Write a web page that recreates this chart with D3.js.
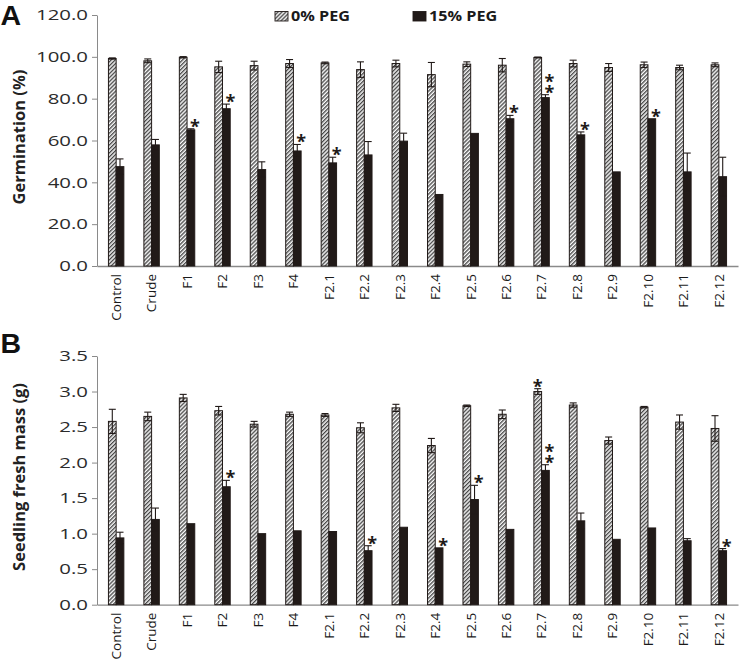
<!DOCTYPE html>
<html>
<head>
<meta charset="utf-8">
<script src="https://cdn.jsdelivr.net/npm/d3@7"></script>
<style>
  body { margin: 0; background: #fff; }
  text { font-family: "Open Sans", sans-serif; }
</style>
</head>
<body>
<script>
// categories / series
var categories = ['Control', 'Crude', 'F1', 'F2', 'F3', 'F4', 'F2.1', 'F2.2', 'F2.3', 'F2.4',
  'F2.5', 'F2.6', 'F2.7', 'F2.8', 'F2.9', 'F2.10', 'F2.11', 'F2.12']

// panel A: germination (%)
var germ0 = [99.2, 98.1, 99.8, 95.2, 95.8, 96.8, 97.1, 93.9, 96.8, 91.5, 96.5, 96.0, 99.7, 96.8, 94.9, 96.2, 94.9, 96.2]
var germ0Err = [0.3, 0.9, 0.3, 2.7, 2.1, 1.9, 0.4, 3.7, 1.6, 5.8, 1.1, 3.2, 0.2, 1.6, 1.9, 1.3, 1.1, 0.9]
var germ15 = [47.5, 57.9, 65.1, 75.2, 46.1, 55.0, 49.3, 53.1, 59.7, 34.2, 63.4, 70.4, 80.5, 62.7, 45.0, 70.4, 45.0, 42.7]
var germ15Err = [3.7, 2.6, 0.5, 2.2, 3.7, 3.1, 2.7, 6.4, 3.8, 0, 0, 1.6, 1.4, 1.4, 0, 0, 9.0, 9.3]
var germ0Sig = [0, 0, 0, 0, 0, 0, 0, 0, 0, 0, 0, 0, 0, 0, 0, 0, 0, 0]
var germ15Sig = [0, 0, 1, 1, 0, 1, 1, 0, 0, 0, 0, 1, 2, 1, 0, 1, 0, 0]

// panel B: seedling fresh mass (g)
var mass0 = [2.58, 2.65, 2.91, 2.73, 2.54, 2.68, 2.67, 2.49, 2.77, 2.24, 2.80, 2.68, 3.00, 2.81, 2.31, 2.78, 2.57, 2.48]
var mass0Err = [0.17, 0.06, 0.05, 0.06, 0.04, 0.03, 0.02, 0.07, 0.05, 0.10, 0.01, 0.06, 0.04, 0.03, 0.05, 0.01, 0.10, 0.18]
var mass15 = [0.94, 1.20, 1.14, 1.66, 1.00, 1.04, 1.03, 0.76, 1.09, 0.80, 1.48, 1.06, 1.89, 1.18, 0.92, 1.08, 0.90, 0.76]
var mass15Err = [0.08, 0.16, 0, 0.09, 0, 0, 0, 0.07, 0, 0, 0.20, 0, 0.08, 0.11, 0, 0, 0.03, 0.03]
var mass0Sig = [0, 0, 0, 0, 0, 0, 0, 0, 0, 0, 0, 0, 1, 0, 0, 0, 0, 0]
var mass15Sig = [0, 0, 0, 1, 0, 0, 0, 1, 0, 1, 1, 0, 2, 0, 0, 0, 0, 1]

var seriesNames = ['0% PEG', '15% PEG']

var width = 740, height = 669
var left = 97, right = 738
var black = '#211a18'
var axisGrey = '#8a8a8a'

var svg = d3.select('body').append('svg')
  .attr('width', width)
  .attr('height', height)

// hatch pattern for 0% PEG
var pat = svg.append('defs').append('pattern')
  .attr('id', 'hatch')
  .attr('patternUnits', 'userSpaceOnUse')
  .attr('width', 2.8)
  .attr('height', 2.8)
  .attr('patternTransform', 'rotate(45)')
pat.append('rect').attr('width', 2.8).attr('height', 2.8).attr('fill', '#fafafa')
pat.append('line').attr('x1', 0.7).attr('x2', 0.7).attr('y1', 0).attr('y2', 2.8)
  .attr('stroke', '#2a2a2a').attr('stroke-width', 1.15)

var x = d3.scaleBand().domain(categories).range([left, right]).paddingInner(0).paddingOuter(0.04)
var xSub = d3.scaleBand().domain(seriesNames).range([0, x.bandwidth()]).paddingOuter(1.3)

// stretch text horizontally like the source image
function stretch(sel, k) {
  sel.each(function () {
    var w = this.getComputedTextLength()
    d3.select(this).attr('textLength', w * k).attr('lengthAdjust', 'spacingAndGlyphs')
  })
}

function panel(opts) {
  var y = d3.scaleLinear().domain(opts.domain).range([opts.bottom, opts.top])
  var g = svg.append('g')

  // y axis
  var ya = g.append('g')
    .attr('transform', 'translate(' + left + ',0)')
    .call(d3.axisLeft(y).tickValues(opts.ticks).tickFormat(d3.format('.1f')).tickSize(5).tickSizeOuter(0))
  ya.select('.domain').attr('stroke', axisGrey)
  ya.selectAll('.tick line').attr('stroke', axisGrey)
  ya.selectAll('.tick text').attr('x', -9).attr('font-size', 15).attr('fill', '#2b2b2b')
    .style('font-family', 'Open Sans')
    .call(stretch, 1.36)

  // x axis
  var xa = g.append('g')
    .attr('transform', 'translate(0,' + opts.bottom + ')')
    .call(d3.axisBottom(x).tickSize(0).tickSizeOuter(0))
  xa.select('.domain').attr('stroke', axisGrey).attr('stroke-width', 1.3)
  xa.selectAll('.tick text')
    .attr('transform', 'rotate(-90)')
    .attr('text-anchor', 'end')
    .attr('x', -8)
    .attr('y', 0)
    .attr('dy', '0.36em')
    .attr('font-size', 13.5)
    .attr('fill', '#1a1a1a')
    .style('font-family', 'Open Sans')

  var series = [
    { name: seriesNames[0], v: opts.v0, e: opts.e0, s: opts.s0, fill: 'url(#hatch)' },
    { name: seriesNames[1], v: opts.v15, e: opts.e15, s: opts.s15, fill: black }
  ]

  series.forEach(function (ser) {
    var rows = categories.map(function (c, i) { return { c: c, v: ser.v[i], e: ser.e[i], s: ser.s[i] } })
    var bx = function (d) { return x(d.c) + xSub(ser.name) }
    var bw = xSub.bandwidth()

    g.append('g').selectAll('rect').data(rows).enter().append('rect')
      .attr('x', bx)
      .attr('y', d => y(d.v))
      .attr('width', bw)
      .attr('height', d => y(0) - y(d.v))
      .attr('fill', ser.fill)
      .attr('stroke', black)
      .attr('stroke-width', 1)

    // error bars
    var eb = g.append('g').attr('stroke', black).attr('stroke-width', 1.1)
    rows.filter(d => d.e > 0).forEach(function (d) {
      var cx = bx(d) + bw / 2
      eb.append('line').attr('x1', cx).attr('x2', cx).attr('y1', y(d.v - d.e)).attr('y2', y(d.v + d.e))
      eb.append('line').attr('x1', cx - 3.5).attr('x2', cx + 3.5).attr('y1', y(d.v + d.e)).attr('y2', y(d.v + d.e))
      eb.append('line').attr('x1', cx - 3.5).attr('x2', cx + 3.5).attr('y1', y(d.v - d.e)).attr('y2', y(d.v - d.e))
    })

    // significance stars (stacked stars share one text element)
    var dxStar = ser.name === seriesNames[1] ? 4 : 0
    rows.filter(d => d.s > 0).forEach(function (d) {
      var cx = bx(d) + bw / 2 + dxStar
      var top = y(d.v + d.e)
      var t = g.append('text')
        .attr('x', cx)
        .attr('y', top + 4 - (d.s - 1) * 10.5)
        .attr('text-anchor', 'middle')
        .attr('font-size', 18)
        .attr('font-weight', 'bold')
        .attr('fill', black)
      for (var k = 0; k < d.s; k++) {
        t.append('tspan').attr('x', cx).attr('dy', k === 0 ? 0 : 10.5).text('*')
      }
    })
  })

  // y title
  g.append('text')
    .attr('transform', 'translate(' + 25 + ',' + opts.titleY + ') rotate(-90)')
    .attr('text-anchor', 'middle')
    .attr('font-size', 16.5)
    .attr('font-weight', 'bold')
    .attr('fill', '#222')
    .text(opts.title)

  // panel letter
  g.append('text')
    .attr('x', 0.5)
    .attr('y', opts.letterY)
    .attr('font-size', 28.5)
    .attr('font-weight', 'bold')
    .attr('fill', '#111')
    .style('font-family', 'Liberation Sans')
    .text(opts.letter)
}

panel({
  domain: [0, 120], ticks: d3.range(0, 121, 20), top: 15, bottom: 266,
  v0: germ0, e0: germ0Err, s0: germ0Sig, v15: germ15, e15: germ15Err, s15: germ15Sig,
  title: 'Germination (%)', titleY: 137, letter: 'A', letterY: 24.5
})

panel({
  domain: [0, 3.5], ticks: d3.range(0, 3.51, 0.5), top: 356, bottom: 604.7,
  v0: mass0, e0: mass0Err, s0: mass0Sig, v15: mass15, e15: mass15Err, s15: mass15Sig,
  title: 'Seedling fresh mass (g)', titleY: 477, letter: 'B', letterY: 353
})

// legend
var legend = svg.append('g')
var legItems = [
  { name: seriesNames[0], fill: 'url(#hatch)', x: 275 },
  { name: seriesNames[1], fill: black, x: 413 }
]
legItems.forEach(function (it) {
  legend.append('rect')
    .attr('x', it.x).attr('y', 11.5)
    .attr('width', 13).attr('height', 9.5)
    .attr('fill', it.fill).attr('stroke', black).attr('stroke-width', 0.9)
  legend.append('text')
    .attr('x', it.x + 16).attr('y', 21)
    .attr('font-size', 13.5)
    .attr('font-weight', 'bold')
    .attr('fill', '#1a1a1a')
    .text(it.name)
    .call(stretch, 1.2)
})
</script>
</body>
</html>
